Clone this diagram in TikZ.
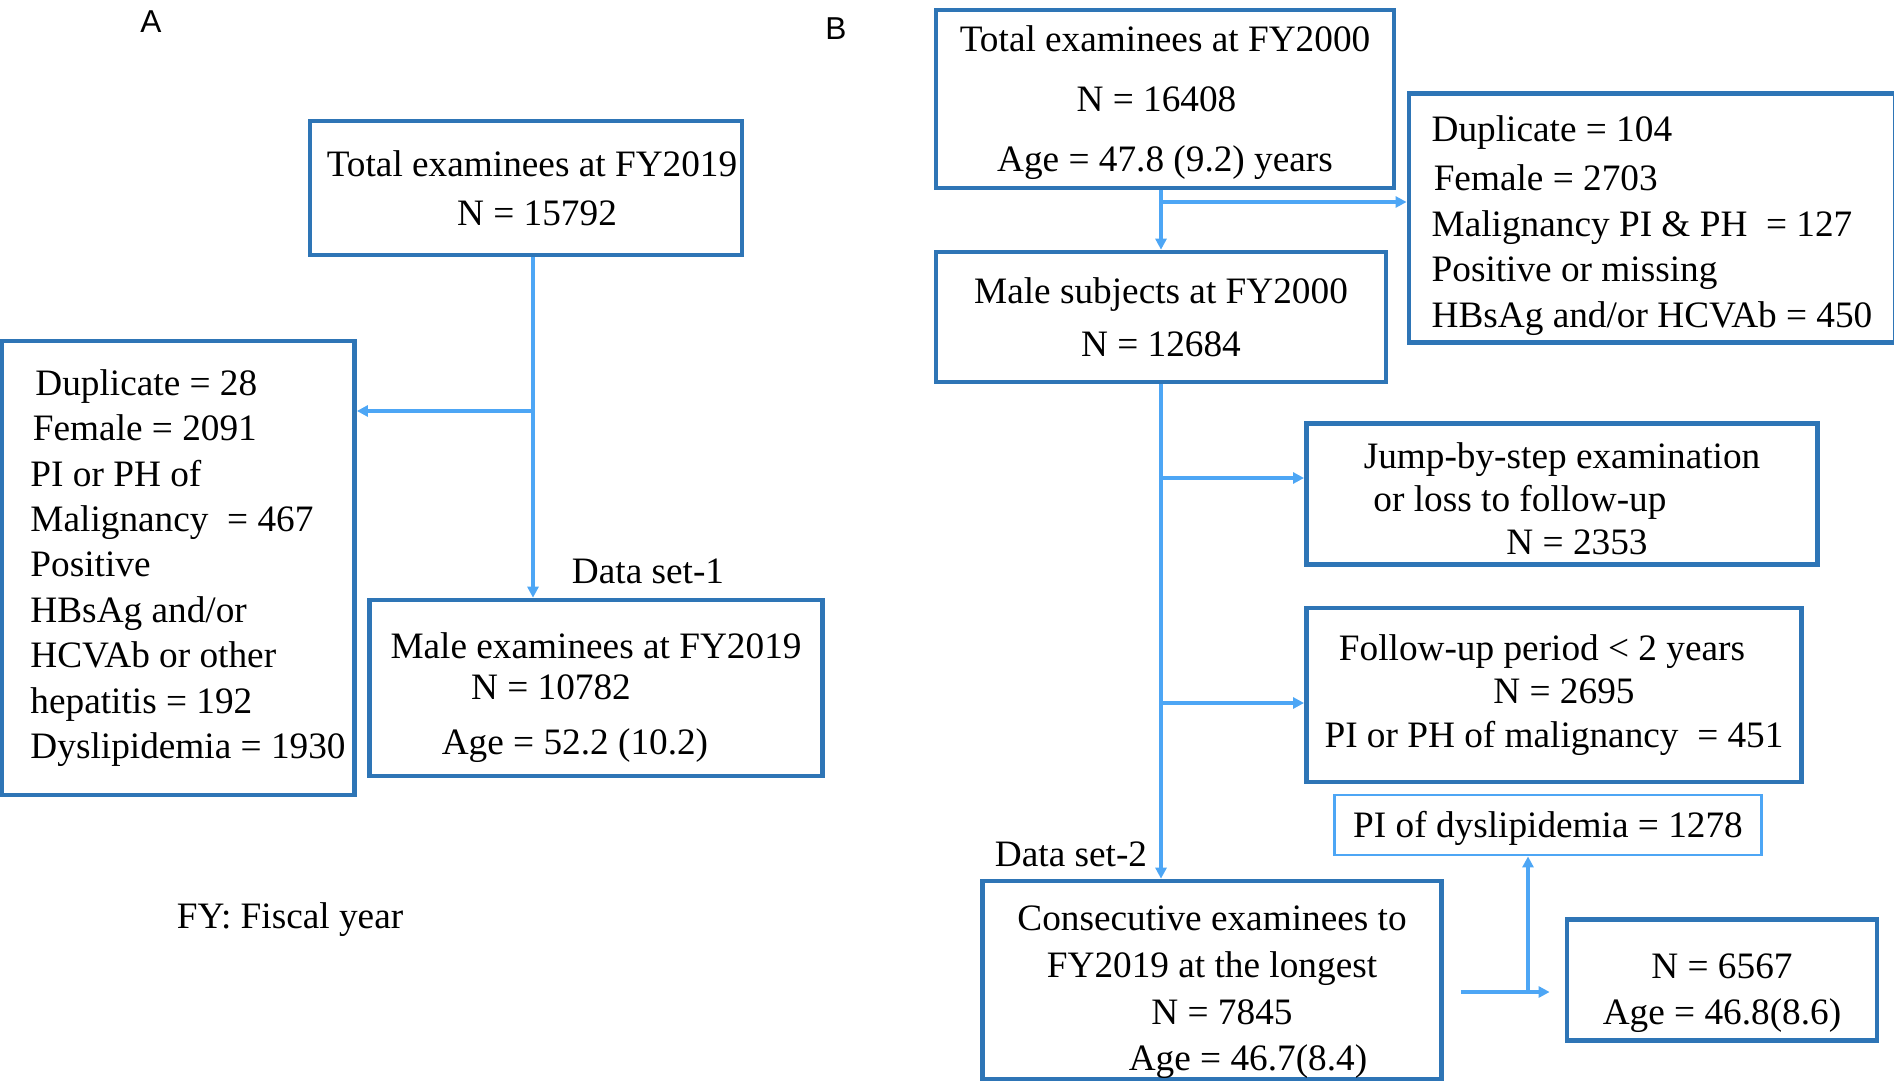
\documentclass[tikz,border=0pt]{standalone}
\usepackage{fontspec}
\setmainfont{Liberation Serif}
\newfontfamily\panelfont{Liberation Sans}
\usepackage{tikz}
\usetikzlibrary{arrows.meta, positioning}
\definecolor{boxblue}{HTML}{2E75B6}
\definecolor{lineblue}{HTML}{4DA6F5}
\newcommand{\boxfs}[1]{\fontsize{10.6pt}{#1}\selectfont}
\newcommand{\lift}[1]{\rule{0pt}{\dimexpr7.3pt+#1\relax}}
\newcommand{\ind}{\hspace*{0.2cm}}
\tikzstyle{flowbox} = [
    rectangle, draw=boxblue, line width=1.3pt, inner sep=0pt,
    align=center, font=\boxfs{13pt}
]
\tikzstyle{leftbox} = [flowbox, align=left]
\tikzstyle{thinbox} = [
    rectangle, draw=lineblue, line width=0.8pt, inner sep=0pt,
    align=center, font=\boxfs{13pt}
]
\tikzstyle{note} = [inner sep=0pt, font=\boxfs{13pt}]
\tikzstyle{panel} = [inner sep=0pt, font=\panelfont\fontsize{9pt}{11pt}\selectfont]
\tikzstyle{link} = [lineblue, line width=1.1pt]
\tikzstyle{arrow} = [-{Triangle[length=1.1mm, width=1.1mm]}, lineblue, line width=1.1pt]

\begin{document}
\begin{tikzpicture}[x=0.01cm, y=-0.01cm]
    \useasboundingbox (0,0) rectangle (1894,1082);
    % Panel A
    \node[panel] (labA) at (151,22) {A};
    \node[flowbox, minimum width=4.32cm, minimum height=1.34cm, font=\boxfs{13.9pt}] (tot19) at (526,188)
        {\hspace*{0.12cm}Total examinees at FY2019\\\hspace*{0.22cm}N = 15792};
    \node[leftbox, minimum width=3.53cm, minimum height=4.54cm, font=\boxfs{12.9pt}] (exclA) at (178,568)
        {\ind\hspace*{1.4pt}Duplicate = 28\\\ind\hspace*{0.7pt}Female = 2091\\\ind PI or PH of\\\ind Malignancy \ = 467\\\ind Positive\\\ind HBsAg and/or\\\ind HCVAb or other\\\ind hepatitis = 192\\\ind Dyslipidemia = 1930};
    \node[flowbox, minimum width=4.53cm, minimum height=1.76cm, font=\boxfs{11.7pt}] (maleA) at (596,688)
        {\lift{0.2cm}Male examinees at FY2019\\\hspace*{-0.9cm}N = 10782\\[3.9pt]\hspace*{-0.42cm}Age = 52.2 (10.2)};
    \node[note] (set1) at (648,571) {Data set-1};
    \node[note] (fynote) at (290,920) {FY: Fiscal year};
    % Panel B
    \node[panel] (labB) at (836,29) {B};
    \node[flowbox, minimum width=4.58cm, minimum height=1.78cm, font=\boxfs{17.1pt}] (tot00) at (1165,99)
        {\lift{0.07cm}Total examinees at FY2000\\\hspace*{-0.17cm}N = 16408\\Age = 47.8 (9.2) years};
    \node[leftbox, minimum width=4.86cm, minimum height=2.49cm, font=\boxfs{13pt}] (exclB) at (1652,218)
        {\lift{0.15cm}Duplicate = 104\\[1pt]\hspace*{0.6pt}Female = 2703\\Malignancy PI \& PH \ = 127\\Positive or missing\\HBsAg and/or HCVAb = 450};
    \node[flowbox, minimum width=4.50cm, minimum height=1.30cm, font=\boxfs{15.1pt}] (maleB) at (1161,317)
        {Male subjects at FY2000\\N = 12684};
    \node[flowbox, minimum width=5.11cm, minimum height=1.41cm, font=\boxfs{12.2pt}] (jump) at (1562,494)
        {\lift{0.1cm}Jump-by-step examination\\\hspace*{-0.84cm}or loss to follow-up\\\hspace*{0.3cm}N = 2353};
    \node[flowbox, minimum width=4.95cm, minimum height=1.74cm, font=\boxfs{12.4pt}] (follow) at (1554,695)
        {\hspace*{-0.24cm}Follow-up period < 2 years\\\hspace*{0.2cm}N = 2695\\PI or PH of malignancy \ = 451};
    \node[thinbox, minimum width=4.26cm, minimum height=0.60cm] (dysl) at (1548,825)
        {\lift{0.07cm}PI of dyslipidemia = 1278};
    \node[note] (set2) at (1071,854) {Data set-2};
    \node[flowbox, minimum width=4.59cm, minimum height=1.98cm, font=\boxfs{13.3pt}] (consec) at (1212,980)
        {\lift{0.24cm}Consecutive examinees to\\FY2019 at the longest\\\hspace*{0.2cm}N = 7845\\\hspace*{0.72cm}Age = 46.7(8.4)};
    \node[flowbox, minimum width=3.10cm, minimum height=1.21cm, font=\boxfs{13.1pt}] (final) at (1722,980)
        {\lift{0.26cm}N = 6567\\Age = 46.8(8.6)};
    % Arrows, panel A
    \coordinate (splitA) at (533,411);
    \draw[link] (tot19.south -| splitA) -- (splitA);
    \draw[arrow] (splitA) -- (exclA.east |- splitA);
    \draw[arrow] (splitA) -- (maleA.north -| splitA);
    % Arrows, panel B
    \coordinate (splitB) at (1161,202);
    \coordinate (jumpB) at (1161,478);
    \coordinate (followB) at (1161,703);
    \coordinate (splitC) at (1528,992);
    \draw[arrow] (tot00.south -| splitB) -- (maleB.north -| splitB);
    \draw[arrow] (splitB) -- (exclB.west |- splitB);
    \draw[arrow] (maleB.south -| jumpB) -- (consec.north -| jumpB);
    \draw[arrow] (jumpB) -- (jump.west |- jumpB);
    \draw[arrow] (followB) -- (follow.west |- followB);
    \draw[arrow, shorten <=0.17cm, shorten >=0.15cm] (consec.east |- splitC) -- (final.west |- splitC);
    \draw[arrow] (splitC) -- (dysl.south -| splitC);
\end{tikzpicture}
\end{document}
